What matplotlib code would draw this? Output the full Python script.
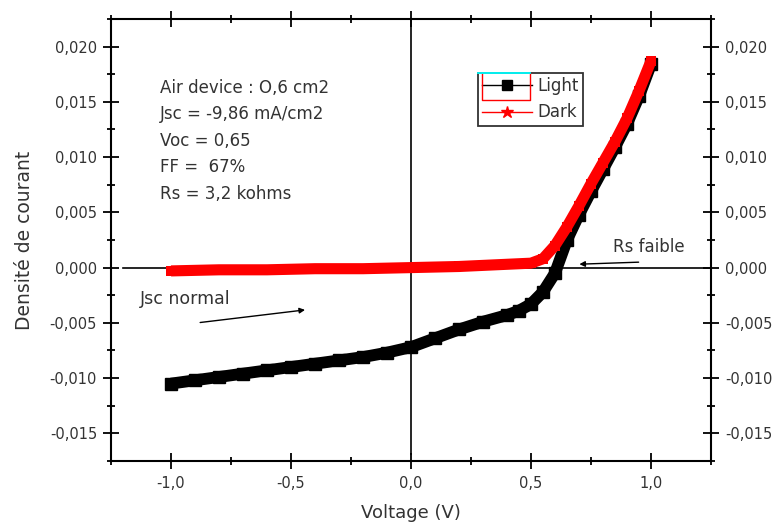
import numpy as np
import matplotlib.pyplot as plt
from matplotlib.lines import Line2D
from matplotlib.ticker import MultipleLocator, FuncFormatter

plt.rcParams['font.family'] = ['DejaVu Sans']

# courbe J(V) sous eclairement
v_light = [-1.00, -0.90, -0.80, -0.70, -0.60, -0.50, -0.40, -0.30, -0.20, -0.10,
           0.00, 0.10, 0.20, 0.30, 0.40, 0.45, 0.50, 0.55, 0.60, 0.65,
           0.70, 0.75, 0.80, 0.85, 0.90, 0.95, 1.00]
j_light = [-0.0105, -0.0102, -0.0099, -0.0096, -0.0093, -0.0090, -0.0087, -0.0084, -0.0081, -0.0077,
           -0.0072, -0.0064, -0.0056, -0.0049, -0.0043, -0.0039, -0.0033, -0.0022, -0.0005, 0.0025,
           0.0048, 0.0069, 0.0089, 0.0109, 0.0130, 0.0155, 0.0184]

# courbe J(V) dans le noir
v_dark = [-1.00, -0.80, -0.60, -0.40, -0.20, 0.00, 0.20, 0.40, 0.50, 0.55,
          0.60, 0.65, 0.70, 0.75, 0.80, 0.85, 0.90, 0.95, 1.00]
j_dark = [-0.0003, -0.0002, -0.0002, -0.0001, -0.0001, 0.0000, 0.0001, 0.0003, 0.0004, 0.0008,
          0.0020, 0.0037, 0.0056, 0.0076, 0.0095, 0.0114, 0.0135, 0.0160, 0.0187]

infos = ["Air device : O,6 cm2", "Jsc = -9,86 mA/cm2", "Voc = 0,65", "FF =  67%", "Rs = 3,2 kohms"]

txt = '#333333'

fig = plt.figure(figsize=(7.74, 5.28), dpi=100)
ax = fig.add_axes([0.1434, 0.127, 0.7752, 0.837])

ax.plot(v_light, j_light, color='black', lw=8.5, marker='s', ms=8, solid_capstyle='butt', zorder=3)
ax.plot(v_dark, j_dark, color='red', lw=8, marker='s', ms=7, mew=0, solid_capstyle='butt', zorder=4)

# axes passant par l'origine
ax.axhline(0, xmin=0.02, color='black', lw=1.2, zorder=2)
ax.axvline(0, ymin=0.015, color='black', lw=1.2, zorder=2)

ax.set_xlim(-1.25, 1.25)
ax.set_ylim(-0.0175, 0.0225)

ax.xaxis.set_major_locator(MultipleLocator(0.5))
ax.xaxis.set_minor_locator(MultipleLocator(0.25))
ax.yaxis.set_major_locator(MultipleLocator(0.005))
ax.yaxis.set_minor_locator(MultipleLocator(0.0025))
ax.xaxis.set_major_formatter(FuncFormatter(lambda x, p: f"{x:.1f}".replace('.', ',')))
ax.yaxis.set_major_formatter(FuncFormatter(lambda y, p: f"{y:.3f}".replace('.', ',').replace('-0,000', '0,000')))

ax.tick_params(which='both', direction='inout', top=True, right=True,
               labelright=True, labelsize=10.5, labelcolor=txt, width=1.3)
ax.tick_params(which='major', length=12)
ax.tick_params(which='minor', length=5.5)
ax.xaxis.set_tick_params(which='major', pad=5)
ax.yaxis.set_tick_params(which='major', pad=4)
for s in ax.spines.values():
    s.set_linewidth(1.5)

ax.set_xlabel("Voltage (V)", fontsize=13, color=txt, labelpad=9)
ax.set_ylabel("Densité de courant", fontsize=13.5, color=txt, labelpad=11)

for i, line in enumerate(infos):
    ax.text(-1.046, 0.0163 - i * 0.0024, line, fontsize=12, color=txt, va='center')

ax.text(0.99, 0.0019, "Rs faible", fontsize=12, color=txt, ha='center', va='center')
ax.annotate("", xy=(0.69, 0.0003), xytext=(0.96, 0.0005),
            arrowprops=dict(arrowstyle='-|>', color='black', lw=1, mutation_scale=8))
ax.text(-1.13, -0.0028, "Jsc normal", fontsize=12.5, color=txt, va='center')
ax.annotate("", xy=(-0.43, -0.0038), xytext=(-0.89, -0.0050),
            arrowprops=dict(arrowstyle='-|>', color='black', lw=1, mutation_scale=8))

handles = [Line2D([], [], color='black', lw=1, marker='s', ms=7),
           Line2D([], [], color='red', lw=1, marker='*', ms=9)]
leg = ax.legend(handles, ["Light", "Dark"], loc='upper left', bbox_to_anchor=(0.612, 0.878),
                fontsize=12, frameon=True, fancybox=False, edgecolor='black',
                handlelength=3.0, borderpad=0.25, labelspacing=0.5, handletextpad=0.3,
                borderaxespad=0)
leg.get_frame().set_linewidth(1.3)
for t in leg.get_texts():
    t.set_color(txt)

# cadre rouge et trait cyan autour du symbole "Light"
ax.plot([0.618, 0.618, 0.698, 0.698], [0.878, 0.817, 0.817, 0.878], color='red', lw=1,
        transform=ax.transAxes, zorder=6)
ax.plot([0.612, 0.698], [0.878, 0.878], color='cyan', lw=1.3, transform=ax.transAxes, zorder=7)

fig.savefig("out.png", dpi=100)
